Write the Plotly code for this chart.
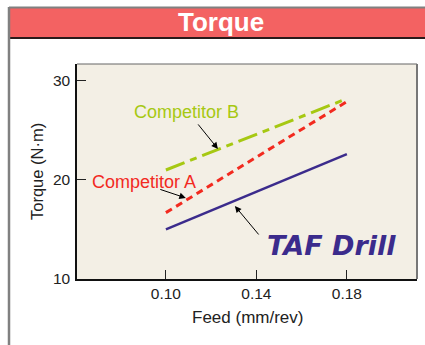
import plotly.graph_objects as go

# Data
feed = [0.10, 0.18]
taf_drill = [15.0, 22.6]
competitor_a = [16.7, 27.9]
competitor_b = [21.0, 28.2]
x_ticks = [0.10, 0.14, 0.18]
x_tick_labels = ["0.10", "0.14", "0.18"]
y_ticks = [10, 20, 30]
y_tick_labels = ["10", "20", "30"]

FONT = "Liberation Sans"
W, H = 425, 345
ML, MR, MT, MB = 77, 8, 64, 66
PW, PH = W - ML - MR, H - MT - MB


def px(X):
    return (X - ML) / PW


def py(Y):
    return (H - MB - Y) / PH


fig = go.Figure()
fig.add_trace(go.Scatter(x=feed, y=competitor_b, mode="lines",
                         line=dict(color="#a6c812", width=3, dash="20px,6px,7px,6px"),
                         showlegend=False, hoverinfo="skip"))
fig.add_trace(go.Scatter(x=feed, y=competitor_a, mode="lines",
                         line=dict(color="#f22a1f", width=3, dash="7px,5px"),
                         showlegend=False, hoverinfo="skip"))
fig.add_trace(go.Scatter(x=feed, y=taf_drill, mode="lines",
                         line=dict(color="#3b2b8c", width=2.5),
                         showlegend=False, hoverinfo="skip"))

shapes = [
    # header band
    dict(type="rect", xref="paper", yref="paper", x0=px(9), x1=px(440), y0=py(37.5), y1=py(8),
         fillcolor="#f36262", line=dict(width=0), layer="below"),
    dict(type="line", xref="paper", yref="paper", x0=px(9), x1=px(440), y0=py(7.5), y1=py(7.5),
         line=dict(color="#808080", width=2)),
    dict(type="line", xref="paper", yref="paper", x0=px(9), x1=px(440), y0=py(38), y1=py(38),
         line=dict(color="#2a1a1a", width=2)),
    # left outer border
    dict(type="line", xref="paper", yref="paper", x0=px(9), x1=px(9), y0=py(7), y1=py(350),
         line=dict(color="#808080", width=2.5)),
    # plot frame top/right
    dict(type="line", xref="paper", yref="paper", x0=0, x1=1, y0=1, y1=1,
         line=dict(color="#666666", width=1.2)),
    dict(type="line", xref="paper", yref="paper", x0=1, x1=1, y0=0, y1=1,
         line=dict(color="#777777", width=2)),
]

annotations = [
    dict(text="<b>Torque</b>", xref="paper", yref="paper", x=px(221), y=py(22.5),
         showarrow=False, font=dict(family=FONT, size=26, color="white"),
         xanchor="center", yanchor="middle"),
    dict(text="Feed (mm/rev)", xref="paper", yref="paper", x=px(247), y=py(317),
         showarrow=False, font=dict(family=FONT, size=17, color="#222222"),
         xanchor="center", yanchor="middle"),
    dict(text="Torque (N\u00b7m)", xref="paper", yref="paper", x=px(37), y=py(172),
         showarrow=False, textangle=-90, font=dict(family=FONT, size=16.5, color="#222222"),
         xanchor="center", yanchor="middle"),
    # labels
    dict(text="Competitor B", x=0.1093, y=26.87, showarrow=False,
         font=dict(family=FONT, size=18, color="#a6c812"), xanchor="center", yanchor="middle"),
    dict(text="Competitor A", x=0.0903, y=19.8, showarrow=False,
         font=dict(family=FONT, size=18, color="#f22a1f"), xanchor="center", yanchor="middle"),
    dict(text="<b><i>TAF Drill</i></b>", x=0.1734, y=13.43, showarrow=False,
         font=dict(family="DejaVu Sans", size=27, color="#3b2b8c"), xanchor="center", yanchor="middle"),
    # arrows
    dict(text="", x=0.123, y=23.13, ax=-21, ay=-26, showarrow=True, arrowhead=2,
         arrowsize=1.3, arrowwidth=1, arrowcolor="black", standoff=0),
    dict(text="", x=0.1088, y=18.18, ax=-27, ay=-9, showarrow=True, arrowhead=2,
         arrowsize=1.3, arrowwidth=1, arrowcolor="black", standoff=0),
    dict(text="", x=0.1305, y=17.37, ax=25, ay=30, showarrow=True, arrowhead=2,
         arrowsize=1.3, arrowwidth=1, arrowcolor="black", standoff=0),
]

fig.update_layout(
    width=W, height=H,
    margin=dict(l=ML, r=MR, t=MT, b=MB),
    paper_bgcolor="white",
    plot_bgcolor="#f3efe5",
    shapes=shapes,
    annotations=annotations,
    showlegend=False,
    xaxis=dict(range=[0.0607, 0.211], tickvals=x_ticks, ticktext=x_tick_labels,
               ticks="inside", ticklen=9, tickcolor="#222222", tickwidth=1,
               showline=True, linecolor="#111111", linewidth=1.5, showgrid=False,
               zeroline=False, tickfont=dict(family=FONT, size=15.5, color="#222222"),
               fixedrange=True),
    yaxis=dict(range=[10, 31.7], tickvals=y_ticks, ticktext=y_tick_labels,
               ticks="inside", ticklen=9, tickcolor="#222222", tickwidth=1,
               showline=True, linecolor="#111111", linewidth=1.5, showgrid=False,
               zeroline=False, ticklabelstandoff=2,
               tickfont=dict(family=FONT, size=15.5, color="#222222"),
               fixedrange=True),
)

fig.write_html("out.html")
